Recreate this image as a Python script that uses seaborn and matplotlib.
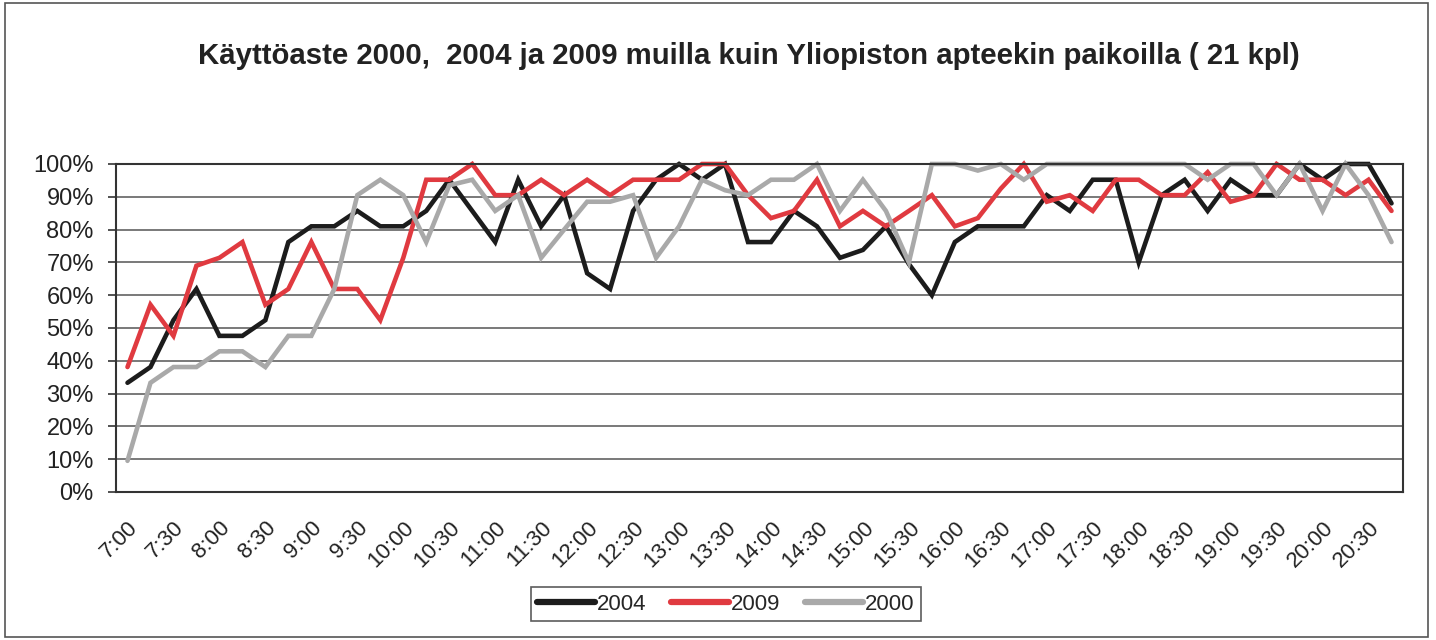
import matplotlib
matplotlib.use("Agg")
import matplotlib.pyplot as plt
import seaborn as sns
import pandas as pd
import numpy as np
from matplotlib.ticker import PercentFormatter
from matplotlib.patches import Rectangle

times = ["7:00", "7:15", "7:30", "7:45", "8:00", "8:15", "8:30", "8:45",
         "9:00", "9:15", "9:30", "9:45", "10:00", "10:15", "10:30", "10:45",
         "11:00", "11:15", "11:30", "11:45", "12:00", "12:15", "12:30", "12:45",
         "13:00", "13:15", "13:30", "13:45", "14:00", "14:15", "14:30", "14:45",
         "15:00", "15:15", "15:30", "15:45", "16:00", "16:15", "16:30", "16:45",
         "17:00", "17:15", "17:30", "17:45", "18:00", "18:15", "18:30", "18:45",
         "19:00", "19:15", "19:30", "19:45", "20:00", "20:15", "20:30", "20:45"]

y2004 = [33.3, 38.1, 52.4, 61.9, 47.6, 47.6, 52.4, 76.2, 81.0, 81.0, 85.7, 81.0,
         81.0, 85.7, 95.2, 85.7, 76.2, 95.2, 81.0, 90.5, 66.7, 61.9, 85.7, 95.2,
         100, 95.2, 100, 76.2, 76.2, 85.7, 81.0, 71.4, 73.8, 81.0, 69.5, 60.0,
         76.2, 81.0, 81.0, 81.0, 90.5, 85.7, 95.2, 95.2, 70.0, 90.5, 95.2, 85.7,
         95.2, 90.5, 90.5, 100, 95.2, 100, 100, 88.0]

y2009 = [38.1, 57.1, 47.6, 69.0, 71.4, 76.2, 57.1, 61.9, 76.2, 61.9, 61.9, 52.4,
         71.4, 95.2, 95.2, 100, 90.5, 90.5, 95.2, 90.5, 95.2, 90.5, 95.2, 95.2,
         95.2, 100, 100, 90.5, 83.5, 85.7, 95.2, 81.0, 85.7, 81.0, 85.7, 90.5,
         81.0, 83.5, 92.5, 100, 88.5, 90.5, 85.7, 95.2, 95.2, 90.5, 90.5, 97.5,
         88.5, 90.5, 100, 95.2, 95.2, 90.5, 95.2, 85.7]

y2000 = [9.5, 33.3, 38.1, 38.1, 42.9, 42.9, 38.1, 47.6, 47.6, 61.9, 90.5, 95.2,
         90.5, 76.2, 93.5, 95.2, 85.7, 90.5, 71.4, 80.0, 88.5, 88.5, 90.5, 71.4,
         81.0, 95.2, 92.0, 90.5, 95.2, 95.2, 100, 85.7, 95.2, 85.7, 70.0, 100,
         100, 98.0, 100, 95.2, 100, 100, 100, 100, 100, 100, 100, 95.2,
         100, 100, 90.5, 100, 85.7, 100, 90.5, 76.2]

series_names = ["2004", "2009", "2000"]
series_values = [y2004, y2009, y2000]
colors = {"2004": "#1c1c1c", "2009": "#e03a40", "2000": "#a9a9a9"}

title = "Käyttöaste 2000,  2004 ja 2009 muilla kuin Yliopiston apteekin paikoilla ( 21 kpl)"

rows = []
for name, vals in zip(series_names, series_values):
    for i, v in enumerate(vals):
        rows.append({"pos": i, "time": times[i], "value": v / 100.0, "year": name})
df = pd.DataFrame(rows)

sns.set_style("white")
plt.rcParams["font.family"] = ["Liberation Sans", "DejaVu Sans"]

fig = plt.figure(figsize=(14.36, 6.4), dpi=100)
ax = fig.add_axes([116 / 1436, 1 - 492 / 640, (1403 - 116) / 1436, (492 - 164) / 640])

sns.lineplot(data=df, x="pos", y="value", hue="year", hue_order=series_names,
             palette=colors, linewidth=3.3, ax=ax, legend=True)
for ln in ax.lines:
    ln.set_solid_joinstyle("miter")
    ln.set_clip_on(False)

n = len(times)
ax.set_xlim(-0.5, n - 0.5)
ax.set_ylim(0, 1)
ax.set_yticks(np.arange(0, 1.01, 0.1))
ax.yaxis.set_major_formatter(PercentFormatter(1.0, decimals=0))
ax.grid(axis="y", color="#6e6e6e", linewidth=1.3)
ax.set_axisbelow(True)

ax.set_xticks(range(0, n, 2))
ax.set_xticklabels([times[i] for i in range(0, n, 2)], rotation=45,
                   ha="right", rotation_mode="anchor", fontsize=16, color="#222222")
ax.set_xticks(np.arange(-0.5, n, 1), minor=True)
ax.tick_params(axis="x", which="major", length=0, pad=18)
ax.tick_params(axis="x", which="minor", length=6, width=1.2, color="#333333", direction="out")
ax.tick_params(axis="y", which="major", length=6, width=1.2, color="#333333",
               direction="out", labelsize=17, labelcolor="#222222", pad=10, left=True)
ax.set_xlabel("")
ax.set_ylabel("")

for side in ["left", "bottom", "top", "right"]:
    ax.spines[side].set_visible(True)
    ax.spines[side].set_color("#333333")
    ax.spines[side].set_linewidth(1.5)

fig.text(749 / 1436, 1 - 56 / 640, title, ha="center", va="center",
         fontsize=21.2, fontweight="bold", color="#222222")

handles, labels = ax.get_legend_handles_labels()
ax.legend_.remove()
leg = fig.legend(handles, labels, loc="center", bbox_to_anchor=(726 / 1436, 1 - 604 / 640),
                 ncol=3, frameon=True, fancybox=False, edgecolor="#333333",
                 fontsize=16, handlelength=2.6, handletextpad=0.1,
                 columnspacing=1.1, borderpad=0.3)
leg.get_frame().set_linewidth(1.2)
for h in leg.get_lines():
    h.set_linewidth(4.5)

fig.patches.append(Rectangle((5 / 1436, 1 - 637 / 640), (1428 - 5) / 1436, (637 - 3) / 640,
                             transform=fig.transFigure, fill=False,
                             edgecolor="#555555", linewidth=1.2))

fig.savefig("out.png", dpi=100)
